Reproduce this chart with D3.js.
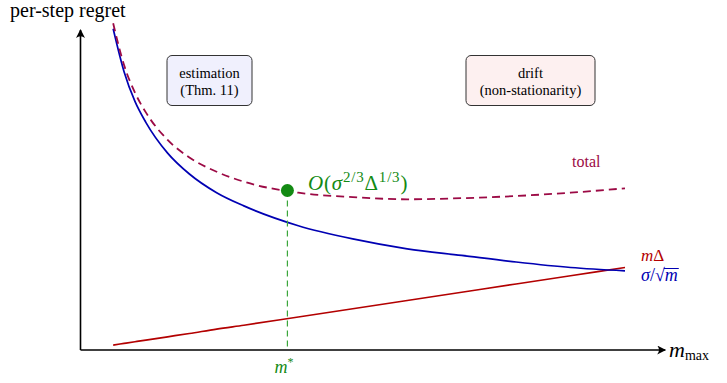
<!DOCTYPE html>
<html lang="en">
<head>
    <meta charset="UTF-8">
    <script src="https://d3js.org/d3.v7.min.js"></script>
    <title>per-step regret</title>
    <style>
        body { margin: 0; background: #fff; }
        svg text { font-family: "Liberation Serif", "Times New Roman", serif; }
    </style>
</head>
<body>
    <div id="app"></div>
    <script>
        const svg_width = 727;
        const svg_height = 383;

        // values (m, per-step regret)
        const m_values = [0.3, 0.4, 0.5, 0.6, 0.8, 1.0, 1.25, 1.5, 2.0, 2.5, 3.0, 3.5, 4.0, 4.5, 5.0];
        const estimation = [2.92, 2.53, 2.26, 2.07, 1.79, 1.60, 1.43, 1.31, 1.13, 1.01, 0.92, 0.86, 0.80, 0.75, 0.72];
        const drift = [0.045, 0.06, 0.075, 0.09, 0.12, 0.15, 0.19, 0.225, 0.30, 0.375, 0.45, 0.525, 0.60, 0.675, 0.75];
        const total = [2.97, 2.59, 2.34, 2.16, 1.91, 1.75, 1.62, 1.53, 1.43, 1.39, 1.37, 1.38, 1.40, 1.43, 1.47];
        const m_star = [1.9, 1.45];
        const axis_end = [5.37, 2.91];

        const blue = '#0000b3';
        const red = '#b30000';
        const purple = '#9c0a45';
        const green = '#138a13';
        const serif = 'Liberation Serif';

        var svg = d3.select('#app')
            .append('svg')
            .attr('width', svg_width)
            .attr('height', svg_height)

        var x = d3.scaleLinear().domain([0, 5]).range([80.5, 625])
        var y = d3.scaleLinear().domain([0, 1]).range([350, 240])

        var defs = svg.append('defs')
        defs.append('marker')
            .attr('id', 'arrow')
            .attr('viewBox', '0 0 10 10')
            .attr('refX', 9).attr('refY', 5)
            .attr('markerWidth', 9).attr('markerHeight', 9)
            .attr('markerUnits', 'userSpaceOnUse')
            .attr('orient', 'auto')
            .append('path')
            .attr('d', 'M0,0 Q4,5 0,10 L10,5 Z')
            .attr('fill', '#000')

        // axes
        svg.append('line')
            .attr('x1', x(0)).attr('y1', y(0))
            .attr('x2', x(axis_end[0])).attr('y2', y(0))
            .attr('stroke', '#000').attr('stroke-width', 1.6)
            .attr('marker-end', 'url(#arrow)')
        svg.append('line')
            .attr('x1', x(0)).attr('y1', y(0))
            .attr('x2', x(0)).attr('y2', y(axis_end[1]))
            .attr('stroke', '#000').attr('stroke-width', 1.6)
            .attr('marker-end', 'url(#arrow)')

        function series(vals) {
            return m_values.map(function (m, i) { return [m, vals[i]] })
        }
        var line = d3.line()
            .x(function (d) { return x(d[0]) })
            .y(function (d) { return y(d[1]) })
            .curve(d3.curveMonotoneX)

        svg.append('path')
            .attr('d', line(series(drift)))
            .attr('fill', 'none').attr('stroke', red).attr('stroke-width', 1.7)
        svg.append('path')
            .attr('d', line(series(estimation)))
            .attr('fill', 'none').attr('stroke', blue).attr('stroke-width', 1.7)
        svg.append('path')
            .attr('d', line(series(total)))
            .attr('fill', 'none').attr('stroke', purple).attr('stroke-width', 1.8)
            .attr('stroke-dasharray', '8,5')

        // optimum marker
        svg.append('line')
            .attr('x1', x(m_star[0])).attr('y1', y(m_star[1]))
            .attr('x2', x(m_star[0])).attr('y2', y(0))
            .attr('stroke', '#3aa63a').attr('stroke-width', 1.2)
            .attr('stroke-dasharray', '6,4')
        svg.append('circle')
            .attr('cx', x(m_star[0])).attr('cy', y(m_star[1]))
            .attr('r', 6.5).attr('fill', green)

        function label(px, py, size, color) {
            return svg.append('text')
                .attr('x', px).attr('y', py)
                .attr('font-family', serif)
                .attr('font-size', size)
                .attr('fill', color || '#000')
        }

        // labels
        label(10, 17, 20).text('per-step regret')

        var mmax = label(669, 357, 22)
        mmax.append('tspan').attr('font-style', 'italic').text('m')
        mmax.append('tspan').attr('font-size', 14).attr('dy', 3).text('max')

        var ms = label(x(m_star[0]) - 13, 373, 18, green)
        ms.append('tspan').attr('font-style', 'italic').text('m')
        ms.append('tspan').attr('font-size', 12).attr('dy', -7).text('*')

        var ol = label(308, 190, 21, green).attr('letter-spacing', 0.8)
        ol.append('tspan').attr('font-style', 'italic').text('O')
        ol.append('tspan').text('(')
        ol.append('tspan').attr('font-style', 'italic').text('σ')
        ol.append('tspan').attr('font-size', 15).attr('dy', -8).text('2/3')
        ol.append('tspan').attr('dy', 8).text('Δ')
        ol.append('tspan').attr('font-size', 15).attr('dy', -8).text('1/3')
        ol.append('tspan').attr('dy', 8).text(')')

        label(572, 167, 16, purple).text('total')

        var md = label(641, 261, 17, red)
        md.append('tspan').attr('font-style', 'italic').text('m')
        md.append('tspan').text('Δ')

        var sm = label(641, 281, 18, blue)
        sm.append('tspan').attr('font-style', 'italic').text('σ')
        sm.append('tspan').text('/√')
        sm.append('tspan').attr('font-style', 'italic').text('m')
        var sm_node = sm.node()
        var n = sm_node.getNumberOfChars()
        var start = sm_node.getStartPositionOfChar(n - 1)
        var end = sm_node.getEndPositionOfChar(n - 1)
        svg.append('line')
            .attr('x1', start.x - 1).attr('x2', end.x + 1)
            .attr('y1', 281 - 12.5).attr('y2', 281 - 12.5)
            .attr('stroke', blue).attr('stroke-width', 1)

        // annotation boxes
        var boxes = [
            { x0: 167, x1: 252, fill: '#f0f0fd', lines: ['estimation', '(Thm. 11)'] },
            { x0: 466, x1: 595, fill: '#fdf0f0', lines: ['drift', '(non-stationarity)'] }
        ]
        var box = svg.selectAll('g.box')
            .data(boxes)
            .enter()
            .append('g')
            .attr('class', 'box')
        box.append('rect')
            .attr('x', function (d) { return d.x0 })
            .attr('y', 55.5)
            .attr('width', function (d) { return d.x1 - d.x0 })
            .attr('height', 50)
            .attr('rx', 5)
            .attr('fill', function (d) { return d.fill })
            .attr('stroke', '#333').attr('stroke-width', 1)
        box.selectAll('text')
            .data(function (d) {
                return d.lines.map(function (t, i) { return { t: t, i: i, cx: (d.x0 + d.x1) / 2 } })
            })
            .enter()
            .append('text')
            .attr('x', function (d) { return d.cx })
            .attr('y', function (d) { return 78 + d.i * 17 })
            .attr('text-anchor', 'middle')
            .attr('font-family', serif)
            .attr('font-size', 14.5)
            .text(function (d) { return d.t })
    </script>
</body>
</html>
